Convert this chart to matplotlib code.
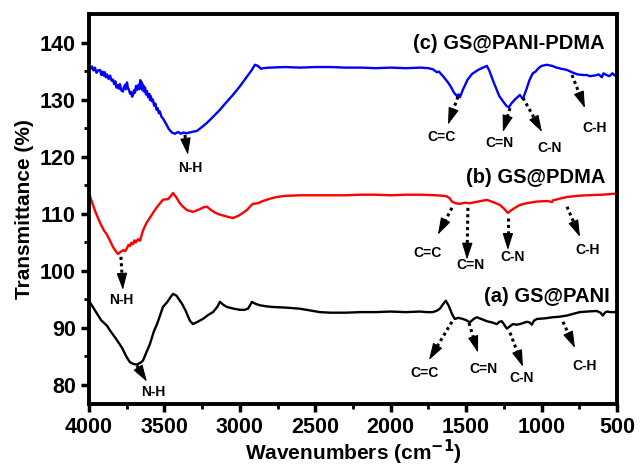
import numpy as np
import matplotlib.pyplot as plt

plt.rcParams['font.family'] = ['Liberation Sans', 'DejaVu Sans']
plt.rcParams['font.weight'] = 'bold'

# (a) GS@PANI
wn_a = [4000, 3960, 3920, 3880, 3861, 3820, 3780, 3750, 3728, 3705, 3682, 3660, 3642, 3620, 3596, 3570,
        3549, 3530, 3510, 3480, 3460, 3443, 3420, 3400, 3384, 3360, 3331, 3311, 3280, 3245, 3210, 3178,
        3150, 3132, 3110, 3085, 3040, 2999, 2970, 2946, 2930, 2920, 2900, 2867, 2820, 2781, 2700, 2602,
        2469, 2400, 2300, 2200, 2100, 2000, 1900, 1806, 1760, 1720, 1690, 1674, 1650, 1634, 1615, 1594,
        1575, 1550, 1522, 1500, 1475, 1450, 1429, 1400, 1362, 1330, 1296, 1280, 1263, 1245, 1230, 1210,
        1190, 1165, 1144, 1120, 1098, 1080, 1064, 1050, 1031, 980, 925, 880, 832, 790, 746, 700, 634,
        610, 594, 580, 567, 540, 514, 500]
t_a = [94.7, 93.0, 91.3, 90.3, 89.5, 88.0, 86.4, 84.8, 83.9, 83.6, 83.5, 83.8, 84.2, 85.6, 87.1, 89.3,
       90.6, 92.0, 93.6, 94.5, 95.3, 95.9, 95.6, 94.8, 94.2, 93.0, 91.2, 90.6, 91.0, 91.5, 92.2, 92.7,
       93.6, 94.5, 94.0, 93.6, 93.3, 93.1, 93.1, 93.3, 94.0, 94.5, 94.2, 93.9, 93.7, 93.6, 93.5, 93.3,
       92.7, 92.6, 92.6, 92.7, 92.7, 92.8, 92.7, 92.8, 92.7, 92.7, 93.0, 93.3, 94.2, 94.7, 93.8, 92.4,
       91.5, 91.7, 91.5, 91.3, 90.9, 91.5, 91.8, 91.5, 91.1, 90.9, 90.6, 91.0, 91.1, 90.4, 89.8, 90.2,
       90.6, 90.5, 90.6, 90.8, 91.0, 90.9, 90.5, 91.2, 91.5, 91.6, 91.8, 91.9, 92.1, 92.4, 92.7, 92.8, 92.9,
       92.6, 92.1, 92.6, 92.8, 92.7, 92.7, 92.8]

# (b) GS@PDMA
wn_b = [4000, 3980, 3960, 3940, 3920, 3900, 3881, 3860, 3840, 3820, 3808, 3790, 3770, 3760, 3748, 3738,
        3728, 3718, 3708, 3698, 3690, 3675, 3662, 3642, 3620, 3600, 3576, 3550, 3510, 3490, 3476, 3460,
        3443, 3420, 3400, 3377, 3350, 3311, 3270, 3240, 3218, 3190, 3160, 3132, 3090, 3046, 3010, 2980,
        2953, 2930, 2913, 2880, 2847, 2800, 2754, 2700, 2600, 2500, 2400, 2300, 2200, 2100, 2000, 1900,
        1800, 1700, 1650, 1628, 1610, 1594, 1570, 1541, 1510, 1475, 1440, 1400, 1362, 1320, 1276, 1250,
        1223, 1200, 1170, 1144, 1100, 1031, 960, 930, 925, 880, 832, 760, 700, 600, 501]
t_b = [113.6, 112.0, 110.5, 109.2, 108.0, 107.0, 106.3, 105.2, 104.1, 103.3, 102.9, 103.3, 103.6, 103.4,
       103.9, 104.5, 104.3, 104.9, 104.6, 105.3, 104.9, 105.5, 105.2, 107.0, 108.3, 109.1, 110.1, 111.1,
       112.4, 112.5, 112.5, 113.0, 113.6, 112.8, 111.9, 111.2, 110.6, 110.3, 110.7, 111.1, 111.2, 110.6,
       110.1, 109.8, 109.5, 109.2, 109.6, 110.1, 110.6, 111.3, 111.7, 111.8, 112.2, 112.6, 112.9, 113.1,
       113.2, 113.2, 113.2, 113.2, 113.3, 113.3, 113.2, 113.3, 113.3, 113.2, 113.1, 113.0, 112.7, 112.1,
       111.8, 111.7, 111.9, 111.8, 112.0, 112.2, 112.4, 112.0, 111.5, 110.9, 110.1, 110.6, 111.1, 111.5,
       111.8, 112.1, 112.2, 112.0, 112.3, 112.6, 112.9, 113.1, 113.2, 113.3, 113.5]

# (c) GS@PANI-PDMA
wn_c = [4000, 3990, 3980, 3970, 3960, 3950, 3940, 3927, 3918, 3910, 3902, 3895, 3888, 3880, 3870, 3860,
        3850, 3841, 3833, 3825, 3818, 3810, 3802, 3795, 3785, 3775, 3768, 3760, 3754, 3748, 3742, 3735,
        3727, 3720, 3714, 3708, 3702, 3695, 3688, 3680, 3672, 3665, 3660, 3655, 3649, 3644, 3640, 3634,
        3628, 3622, 3616, 3608, 3600, 3595, 3590, 3583, 3576, 3568, 3560, 3552, 3545, 3537, 3530, 3520,
        3510, 3490, 3470, 3450, 3430, 3410, 3390, 3377, 3350, 3320, 3284, 3250, 3218, 3180, 3132, 3090,
        3046, 3000, 2953, 2920, 2900, 2880, 2860, 2847, 2800, 2700, 2600, 2500, 2400, 2300, 2200, 2100,
        2000, 1900, 1800, 1750, 1720, 1694, 1680, 1650, 1620, 1600, 1580, 1560, 1550, 1541, 1520, 1490,
        1460, 1420, 1380, 1362, 1345, 1320, 1300, 1280, 1250, 1230, 1215, 1200, 1180, 1160, 1144, 1130,
        1124, 1100, 1080, 1058, 1040, 1020, 1000, 965, 930, 900, 870, 832, 800, 760, 720, 700, 680, 650,
        620, 600, 590, 570, 550, 530, 515, 500]
t_c = [136.0, 135.4, 135.8, 135.1, 135.6, 134.7, 135.1, 135.2, 134.3, 134.9, 134.2, 134.8, 133.9, 134.4,
       133.6, 134.2, 133.3, 133.5, 132.7, 133.2, 132.1, 132.5, 131.9, 132.7, 131.6, 131.4, 132.2, 132.6,
       131.8, 133.0, 132.1, 131.7, 131.0, 131.3, 130.5, 130.8, 131.6, 131.2, 132.4, 131.7, 132.6, 131.8,
       133.4, 132.2, 133.0, 131.6, 132.5, 131.4, 132.1, 130.9, 131.5, 130.4, 131.0, 129.9, 130.6, 129.7,
       130.0, 128.9, 129.3, 128.2, 128.5, 127.6, 127.9, 127.0, 126.7, 125.8, 124.8, 124.2, 124.0, 124.3,
       124.0, 124.2, 124.1, 124.3, 124.5, 125.2, 125.9, 126.9, 128.2, 129.5, 130.8, 132.3, 134.0, 135.2,
       136.1, 135.9, 135.4, 135.5, 135.6, 135.7, 135.6, 135.7, 135.7, 135.6, 135.6, 135.5, 135.6, 135.5,
       135.6, 135.5, 135.3, 134.8, 134.9, 134.0, 133.0, 132.2, 131.2, 130.6, 130.9, 130.4, 131.8, 133.5,
       134.5, 135.2, 135.7, 135.9, 135.0, 133.2, 131.9, 130.6, 129.5, 128.8, 128.7, 129.3, 129.9, 130.4,
       130.8, 130.3, 130.1, 131.8, 133.4, 134.6, 134.9, 135.5, 135.9, 136.1, 135.9, 135.6, 135.4, 135.2,
       134.8, 134.4, 134.3, 134.3, 134.1, 134.2, 134.4, 133.9, 134.6, 134.3, 134.1, 134.6, 134.2, 134.5]

series_labels = ['(a) GS@PANI', '(b) GS@PDMA', '(c) GS@PANI-PDMA']
series_colors = ['black', 'red', 'blue']
series_label_pos = [(546, 95.4), (580, 116.3), (580, 139.9)]

# band annotations: text, peak point, arrow tip, label point
band_text = ['N-H', 'C=C', 'C=N', 'C-N', 'C-H',
             'N-H', 'C=C', 'C=N', 'C-N', 'C-H',
             'N-H', 'C=C', 'C=N', 'C-N', 'C-H']
band_start = [(3364, 123.8), (1554, 130.5), (1209, 128.5), (1123, 130.3), (798, 134.3),
              (3788, 102.4), (1594, 111.0), (1488, 111.0), (1223, 109.2), (831, 111.2),
              (3682, 83.3), (1594, 91.0), (1481, 90.8), (1209, 89.1), (858, 91.0)]
band_tip = [(3344, 120.3), (1620, 125.6), (1256, 124.3), (997, 124.3), (712, 128.5),
            (3775, 96.6), (1687, 106.3), (1494, 101.9), (1223, 103.6), (745, 105.9),
            (3616, 80.5), (1746, 84.3), (1421, 85.6), (1123, 83.1), (778, 86.4)]
band_label = [(3330, 118.0), (1660, 123.5), (1276, 122.4), (944, 121.5), (646, 125.0),
              (3788, 94.9), (1759, 103.1), (1474, 101.0), (1189, 102.4), (692, 103.6),
              (3576, 78.7), (1773, 82.1), (1388, 82.8), (1130, 81.2), (712, 83.3)]

fig = plt.figure(figsize=(6.4, 4.68), dpi=100)
ax = fig.add_axes([0.139, 0.137, 0.825, 0.833])
ax.set_xlim(4000, 500)
ax.set_ylim(76.6, 145)

for wn, t, c in zip([wn_a, wn_b, wn_c], [t_a, t_b, t_c], series_colors):
    ax.plot(wn, t, color=c, lw=1.7)

for lab, (x, y) in zip(series_labels, series_label_pos):
    ax.text(x, y, lab, ha='right', va='center', fontsize=14.5, fontweight='bold')

head_px = 14.0
for txt, s, e, l in zip(band_text, band_start, band_tip, band_label):
    ps = ax.transData.transform(s)
    pe = ax.transData.transform(e)
    d = (pe - ps) / np.hypot(*(pe - ps))
    pb = pe - d * head_px
    base = ax.transData.inverted().transform(pb)
    # dotted shaft
    ax.plot([s[0], base[0]], [s[1], base[1]], color='black', lw=2.2,
            linestyle=(0, (1, 1.1)), solid_capstyle='butt', dash_capstyle='butt')
    # solid head
    ax.annotate('', xy=e, xytext=base,
                arrowprops=dict(arrowstyle='-|>,head_length=1.05,head_width=0.33',
                                lw=0.8, color='black', shrinkA=0, shrinkB=0,
                                mutation_scale=10))
    ax.text(l[0], l[1], txt, ha='center', va='center', fontsize=10, fontweight='bold')

ax.set_xticks(np.arange(4000, 499, -500))
ax.set_xticks(np.arange(3750, 500, -500), minor=True)
ax.set_yticks(np.arange(80, 141, 10))
ax.set_yticks(np.arange(85, 145, 10), minor=True)
ax.tick_params(which='major', direction='out', length=6, width=2.5, labelsize=15.5)
ax.tick_params(which='minor', direction='out', length=3.5, width=2)
for lab in ax.get_xticklabels() + ax.get_yticklabels():
    lab.set_fontweight('bold')
for sp in ax.spines.values():
    sp.set_linewidth(2.8)

ax.set_xlabel('Wavenumbers (cm$^{\\mathbf{-1}}$)', fontsize=15, fontweight='bold', labelpad=0)
ax.set_ylabel('Transmittance (%)', fontsize=15, fontweight='bold', labelpad=4)

fig.savefig('out.png', dpi=100)
